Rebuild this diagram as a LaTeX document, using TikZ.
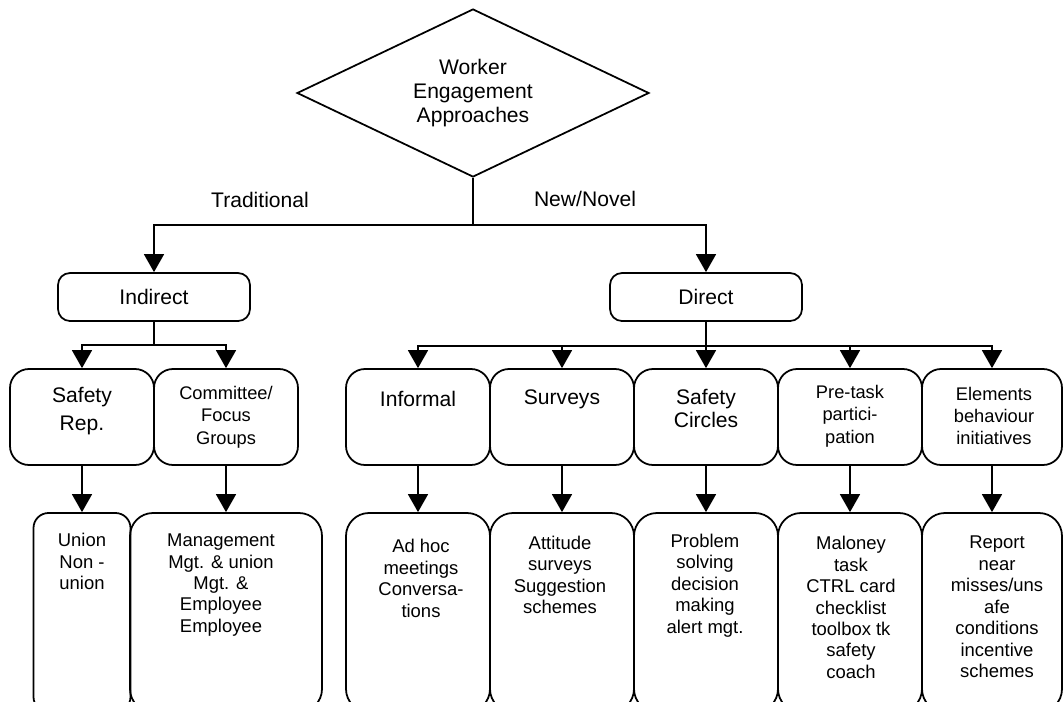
\documentclass[tikz,border=0pt]{standalone}
\usepackage{fontspec}
\setmainfont{Liberation Sans}
\usetikzlibrary{shapes.geometric,arrows.meta}

\tikzset{
  decision/.style={diamond, draw, line width=1pt, aspect=2.1, minimum width=70.4mm,
    minimum height=33.6mm, inner sep=0pt, align=center, font=\fontsize{12}{13.7}\selectfont},
  branchbox/.style={draw, rounded corners=2.4mm, line width=1pt, minimum width=38.4mm,
    minimum height=9.6mm, font=\fontsize{12}{14}\selectfont},
  groupbox/.style={draw, rounded corners=3.8mm, line width=1pt, minimum width=28.8mm, minimum height=19.2mm},
  leafbox/.style={draw, rounded corners=4.6mm, line width=1pt, minimum width=28.8mm, minimum height=39.8mm},
  bigtxt/.style={align=center, inner sep=0pt, font=\fontsize{12}{13}\selectfont},
  smalltxt/.style={align=center, inner sep=0pt, font=\fontsize{10.4}{12.7}\selectfont},
  leaftxt/.style={align=center, inner sep=0pt, font=\fontsize{10.5}{12.2}\selectfont},
  lbl/.style={font=\fontsize{12}{14}\selectfont},
  link/.style={line width=0.9pt},
  flow/.style={line width=0.9pt, -{Triangle[width=4mm,length=3.6mm]}},
}

\begin{document}
\begin{tikzpicture}[x=0.2mm, y=-0.2mm]
\useasboundingbox (0,0) rectangle (1063,702);
\clip (0,0) rectangle (1063,702);

% top level
\node[decision] (approach) at (473,93) {Worker\\Engagement\\Approaches};
\node[lbl] (trad) at (260,200) {Traditional};
\node[lbl] (novel) at (585,199) {New/Novel};
\node[branchbox] (indirect) at (154,297) {Indirect};
\node[branchbox] (direct) at (706,297) {Direct};

% second level
\node[groupbox] (saferep) at (82,417) {};
\node[groupbox] (committee) at (226,417) {};
\node[groupbox] (informal) at (418,417) {};
\node[groupbox] (surveys) at (562,417) {};
\node[groupbox] (circles) at (706,417) {};
\node[groupbox] (pretask) at (850,417) {};
\node[groupbox, minimum width=28mm] (elements) at (992,417) {};

\node[bigtxt, font=\fontsize{12}{16}\selectfont] (saferep-t) at (82,411) {Safety\\Rep.};
\node[smalltxt] (committee-t) at (226,417) {Committee/\\Focus\\Groups};
\node[bigtxt] (informal-t) at (418,399) {Informal};
\node[bigtxt] (surveys-t) at (562,399) {Surveys};
\node[bigtxt] (circles-t) at (706,408.5) {Safety\\Circles};
\node[smalltxt] (pretask-t) at (850,416) {Pre-task\\partici-\\pation};
\node[smalltxt] (elements-t) at (994,416) {Elements\\behaviour\\initiatives};

% leaves
\node[leafbox, minimum width=19.4mm, rounded corners=3mm] (union) at (82,612.5) {};
\node[leafbox, minimum width=38.4mm] (mgmt) at (226,612.5) {};
\node[leafbox] (adhoc) at (418,612.5) {};
\node[leafbox] (attitude) at (562,612.5) {};
\node[leafbox] (problem) at (706,612.5) {};
\node[leafbox] (maloney) at (850,612.5) {};
\node[leafbox, minimum width=28mm] (report) at (992,612.5) {};

\node[leaftxt] (union-t) at (82,561.5) {Union\\Non -\\union};
\node[leaftxt] (mgmt-t) at (221,585) {Management\\Mgt. \& union\\Mgt. \&\\Employee\\Employee};
\node[leaftxt] (adhoc-t) at (421,578.5) {Ad hoc\\meetings\\Conversa-\\tions};
\node[leaftxt] (attitude-t) at (560,575) {Attitude\\surveys\\Suggestion\\schemes};
\node[leaftxt] (problem-t) at (705,585.5) {Problem\\solving\\decision\\making\\alert mgt.};
\node[leaftxt] (maloney-t) at (851,607.5) {Maloney\\task\\CTRL card\\checklist\\toolbox tk\\safety\\coach};
\node[leaftxt] (report-t) at (997,607) {Report\\near\\misses/uns\\afe\\conditions\\incentive\\schemes};

% connectors
\coordinate (split) at (473,225);
\coordinate (indsplit) at (154,345);
\coordinate (dirsplit) at (706,346);
\draw[link] (approach) -- (split);
\draw[flow] (split) -| (indirect);
\draw[flow] (split) -| (direct);
\draw[link] (indirect) -- (indsplit);
\foreach \n in {saferep, committee} \draw[flow] (indsplit) -| (\n);
\draw[link] (direct) -- (dirsplit);
\foreach \n in {informal, surveys, circles, pretask, elements} \draw[flow] (dirsplit) -| (\n);
\foreach \a/\b in {saferep/union, committee/mgmt, informal/adhoc, surveys/attitude,
  circles/problem, pretask/maloney, elements/report} \draw[flow] (\a) -- (\b);
\end{tikzpicture}
\end{document}
